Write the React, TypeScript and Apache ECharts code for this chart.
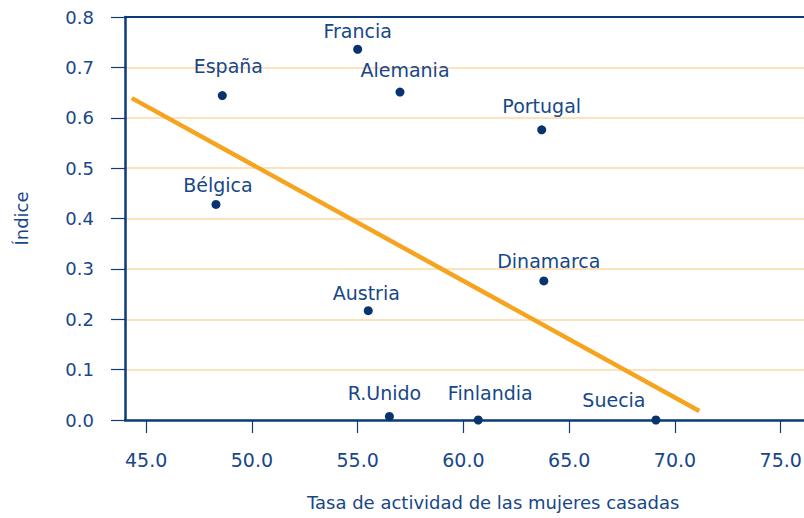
import React, { useEffect, useRef } from "react";
import * as echarts from "echarts";

const countries = ["España", "Francia", "Alemania", "Portugal", "Bélgica", "Dinamarca", "Austria", "R.Unido", "Finlandia", "Suecia"];
const activityRate = [48.6, 55.0, 57.0, 63.7, 48.3, 63.8, 55.5, 56.5, 60.7, 69.1];
const indexValues = [0.644, 0.736, 0.651, 0.576, 0.428, 0.276, 0.217, 0.007, 0.0, 0.0];
const trendX = [44.32, 71.15];
const trendY = [0.639, 0.018];
const xTicks = [45, 50, 55, 60, 65, 70, 75];
const yTickStep = 0.1;

// label offsets (style only), [dx, dy] relative to ECharts 'top' placement
const labelOffsets: Record<string, [number, number]> = {
  "España": [6, -11],
  "Francia": [0, 1],
  "Alemania": [5, -3],
  "Portugal": [0, -5],
  "Bélgica": [2, 0],
  "Dinamarca": [5, -1],
  "Austria": [-2, 1],
  "R.Unido": [-5, -4],
  "Finlandia": [12, -8],
  "Suecia": [-42, -1],
};

const BLUE = "#0b3b7a";
const TEXT = "#17478a";
const FONT = "DejaVu Sans";

export default function App() {
  const ref = useRef<HTMLDivElement>(null);
  useEffect(() => {
    document.body.style.margin = "0";
    const chart = echarts.init(ref.current!, null, { renderer: "svg" });
    const points = countries.map((c, i) => ({
      name: c,
      value: [activityRate[i], indexValues[i]],
      label: { offset: labelOffsets[c] },
    }));
    chart.setOption({
      animation: false,
      grid: { left: 125, top: 17, right: 0, bottom: 98, outerBoundsMode: "none", containLabel: false },
      xAxis: [
        {
          type: "value",
          min: 44,
          max: 76.1,
          axisLine: { show: true, lineStyle: { color: BLUE, width: 2.5 } },
          axisTick: { show: true, length: 13, customValues: xTicks, lineStyle: { color: BLUE, width: 1.2 } },
          axisLabel: {
            customValues: xTicks,
            margin: 30,
            color: TEXT,
            fontFamily: FONT,
            fontSize: 19,
            formatter: (v: number) => v.toFixed(1),
          },
          splitLine: { show: false },
        },
        {
          type: "value",
          position: "top",
          min: 44,
          max: 76.1,
          axisLine: { show: true, onZero: false, lineStyle: { color: BLUE, width: 2 } },
          axisTick: { show: false },
          axisLabel: { show: false },
          splitLine: { show: false },
        },
      ],
      yAxis: {
        type: "value",
        min: 0,
        max: 0.8,
        interval: yTickStep,
        name: "Índice",
        nameLocation: "middle",
        nameGap: 95,
        nameTextStyle: { color: TEXT, fontFamily: FONT, fontSize: 18 },
        axisLine: { show: true, lineStyle: { color: BLUE, width: 2.5 } },
        axisTick: { show: true, length: 14, lineStyle: { color: BLUE, width: 1.2 } },
        axisLabel: {
          margin: 31,
          color: TEXT,
          fontFamily: FONT,
          fontSize: 18,
          formatter: (v: number) => v.toFixed(1),
        },
        splitLine: { show: true, lineStyle: { color: "#fdd9a6", width: 1.5 } },
      },
      graphic: [
        {
          type: "text",
          left: 307,
          top: 493,
          style: {
            text: "Tasa de actividad de las mujeres casadas",
            fill: TEXT,
            font: `18px "${FONT}"`,
          },
        },
      ],
      series: [
        {
          type: "line",
          data: trendX.map((x, i) => [x, trendY[i]]),
          symbol: "none",
          lineStyle: { color: "#f6a41f", width: 4.5 },
          z: 2,
        },
        {
          type: "scatter",
          data: points,
          symbolSize: 9,
          itemStyle: { color: "#08336e", opacity: 1 },
          label: {
            show: true,
            position: "top",
            formatter: "{b}",
            color: TEXT,
            fontFamily: FONT,
            fontSize: 19,
          },
          z: 3,
        },
      ],
    });
    return () => chart.dispose();
  }, []);
  return <div ref={ref} style={{ width: 804, height: 518 }} />;
}
